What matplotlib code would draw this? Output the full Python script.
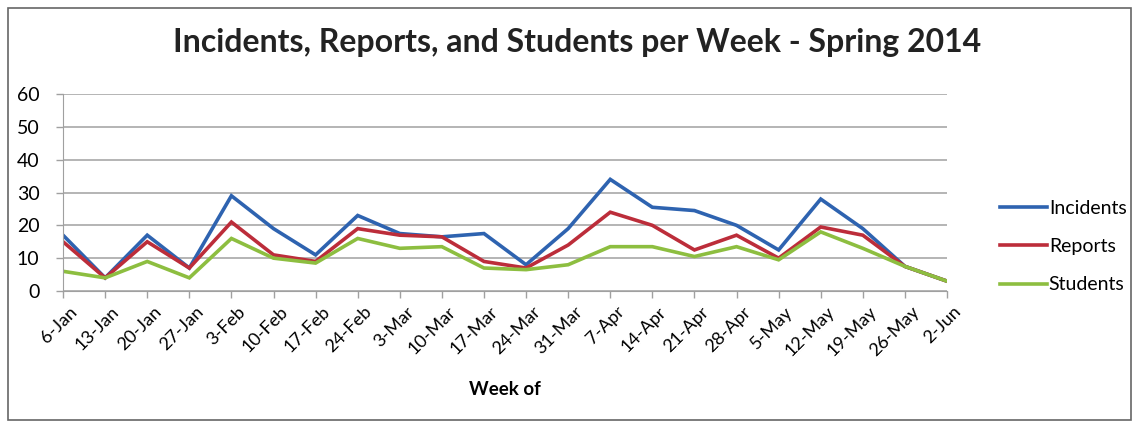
import matplotlib
matplotlib.use("Agg")
import matplotlib.pyplot as plt
from matplotlib.patches import Rectangle
from matplotlib.transforms import ScaledTranslation

weeks = ["6-Jan", "13-Jan", "20-Jan", "27-Jan", "3-Feb", "10-Feb", "17-Feb", "24-Feb",
         "3-Mar", "10-Mar", "17-Mar", "24-Mar", "31-Mar", "7-Apr", "14-Apr", "21-Apr",
         "28-Apr", "5-May", "12-May", "19-May", "26-May", "2-Jun"]
incidents = [17, 4, 17, 7, 29, 19, 11, 23, 17.5, 16.5, 17.5, 8, 19, 34, 25.5, 24.5, 20, 12.5, 28, 19, 7.5, 3]
reports = [15, 4, 15, 7, 21, 11, 9, 19, 17, 16.5, 9, 7, 14, 24, 20, 12.5, 17, 10, 19.5, 17, 7.5, 3]
students = [6, 4, 9, 4, 16, 10, 8.5, 16, 13, 13.5, 7, 6.5, 8, 13.5, 13.5, 10.5, 13.5, 9.5, 18, 13, 7.5, 3]
yticks = [0, 10, 20, 30, 40, 50, 60]

plt.rcParams['font.family'] = ['Lato', 'DejaVu Sans']

fig = plt.figure(figsize=(11.4, 4.25), dpi=100)
ax = fig.add_axes([0.0553, 0.3153, 0.7754, 0.4635])

x = list(range(len(weeks)))
ax.plot(x, incidents, color="#2E63B0", lw=2.6, label="Incidents", solid_joinstyle="miter")
ax.plot(x, reports, color="#BC2D3A", lw=2.6, label="Reports", solid_joinstyle="miter")
ax.plot(x, students, color="#8DBE40", lw=2.6, label="Students", solid_joinstyle="miter")

ax.set_xlim(0, len(weeks) - 1)
ax.set_ylim(0, 60)
ax.set_yticks(yticks)
ax.set_yticklabels([str(v) for v in yticks], fontsize=14)
ax.set_xticks(x)
ax.set_xticklabels(weeks, rotation=45, ha="right", rotation_mode="anchor", fontsize=13)
ax.grid(axis="y", color="#a0a0a0", lw=1.1)
ax.set_axisbelow(True)
for s in ["top", "right"]:
    ax.spines[s].set_visible(False)
ax.spines["left"].set_color("#a0a0a0")
ax.spines["bottom"].set_color("#a0a0a0")
ax.tick_params(axis="both", color="#a0a0a0", length=5, width=1, direction="out")
ax.tick_params(axis="y", pad=12)
ax.tick_params(axis="x", pad=4)
ax.set_xlabel("Week of", fontsize=13.5, fontweight="bold", labelpad=16)

fig.canvas.draw()
off = ScaledTranslation(6 / 100, 0, fig.dpi_scale_trans)
for lab in ax.get_xticklabels():
    lab.set_transform(lab.get_transform() + off)

fig.suptitle("Incidents, Reports, and Students per Week - Spring 2014", x=0.506, y=0.935,
             fontsize=23, fontweight="bold", color="#222222")

leg = fig.legend(loc="center left", bbox_to_anchor=(0.862, 0.42), frameon=False,
                 fontsize=14, handlelength=2.4, handletextpad=0.1, labelspacing=1.1)

fig.patches.append(Rectangle((0.007, 0.012), 0.985, 0.97, transform=fig.transFigure,
                             fill=False, edgecolor="#666666", lw=1.2))

fig.savefig("out.png", dpi=100)
